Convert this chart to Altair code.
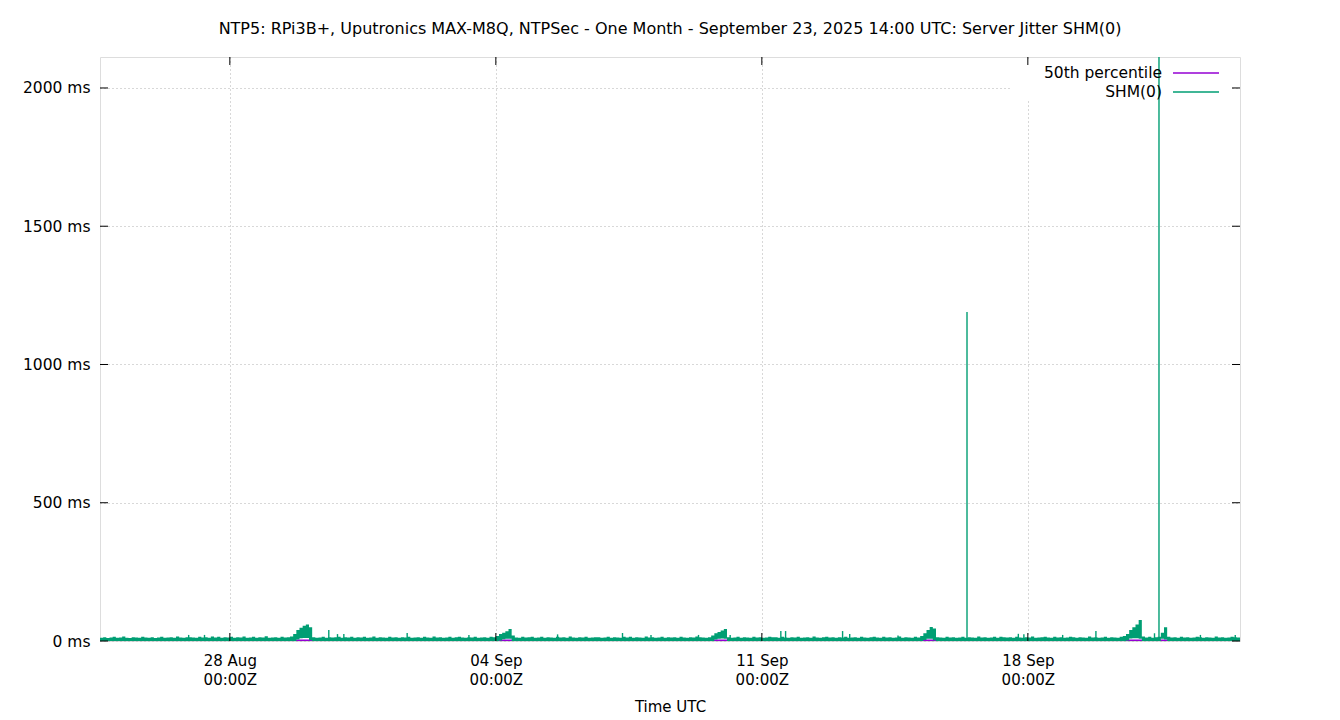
import altair as alt
import pandas as pd

TITLE = "NTP5: RPi3B+, Uputronics MAX-M8Q, NTPSec - One Month - September 23, 2025 14:00 UTC: Server Jitter SHM(0)"

# SHM(0) jitter, upper envelope per 2-hour bin (ms), starting 2025-08-24 14:00 UTC
JITTER_HI = [
    12, 14, 11, 13, 15, 12, 13, 16, 12, 11, 14, 13, 12, 15, 13, 12, 14, 11, 13, 15,
    12, 13, 14, 12, 16, 13, 12, 14, 14, 13, 12, 15, 13, 14, 12, 16, 13, 15, 12, 14,
    13, 15, 12, 14, 13, 16, 12, 13, 15, 12, 14, 13, 17, 12, 13, 14, 12, 15, 13, 14,
    16, 25, 40, 48, 55, 60, 50, 14, 12, 13, 15, 12, 14, 13, 14, 15, 12, 14, 13, 15,
    12, 14, 13, 15, 12, 13, 16, 12, 14, 13, 12, 15, 13, 14, 12, 14, 13, 15, 12, 13,
    14, 12, 15, 13, 12, 16, 13, 14, 12, 13, 15, 12, 14, 15, 13, 12, 14, 13, 15, 12,
    13, 14, 12, 15, 14, 18, 25, 30, 35, 43, 20, 13, 12, 15, 13, 14, 15, 12, 13, 15,
    12, 14, 13, 12, 15, 13, 14, 12, 16, 13, 12, 14, 13, 15, 12, 13, 14, 14, 12, 13,
    15, 12, 14, 13, 12, 15, 13, 15, 12, 14, 13, 12, 16, 13, 14, 12, 13, 15, 12, 14,
    13, 14, 12, 15, 13, 12, 14, 13, 16, 14, 13, 12, 14, 20, 28, 33, 38, 43, 14, 12,
    13, 15, 12, 14, 13, 12, 15, 13, 14, 12, 13, 15, 14, 14, 12, 15, 13, 12, 14, 13,
    15, 12, 13, 14, 12, 16, 13, 12, 14, 15, 13, 14, 12, 14, 13, 15, 12, 13, 14, 12,
    15, 13, 12, 14, 15, 13, 12, 15, 13, 14, 12, 13, 16, 12, 14, 13, 12, 15, 13, 18,
    28, 40, 51, 45, 14, 13, 12, 15, 13, 14, 12, 13, 15, 12, 14, 13, 12, 16, 13, 14,
    12, 13, 15, 12, 15, 14, 13, 14, 12, 15, 13, 12, 14, 13, 16, 12, 13, 14, 15, 13,
    12, 15, 13, 14, 12, 13, 15, 14, 12, 14, 13, 12, 16, 13, 14, 12, 13, 15, 12, 14,
    13, 12, 15, 18, 25, 40, 50, 60, 76, 16, 13, 15, 12, 14, 15, 30, 50, 15, 13, 14,
    12, 15, 13, 14, 12, 13, 15, 14, 12, 14, 13, 12, 16, 13, 14, 12, 13, 15, 14, 13,
]

# bins where the lower envelope lifts off zero (bin index, ms)
LO_BINS = [62, 63, 64, 65, 66, 126, 127, 128, 129, 194, 195, 196, 197,
           260, 261, 262, 263, 324, 325, 326, 327, 328, 335, 336]
LO_VALS = [5, 10, 11, 11, 3, 2, 6, 8, 8, 5, 8, 9, 8,
           4, 8, 8, 3, 2, 9, 10, 10, 8, 8, 5]

# isolated narrow spikes (UTC time, ms)
SPIKE_TIMES = [
    "2025-08-26T22:00:00Z", "2025-08-27T08:00:00Z", "2025-08-30T14:30:00Z",
    "2025-08-30T20:00:00Z", "2025-08-31T00:00:00Z", "2025-09-01T16:00:00Z",
    "2025-09-03T07:00:00Z", "2025-09-05T15:00:00Z", "2025-09-07T08:00:00Z",
    "2025-09-08T02:00:00Z", "2025-09-09T08:00:00Z", "2025-09-10T04:00:00Z",
    "2025-09-11T12:00:00Z", "2025-09-11T15:00:00Z", "2025-09-13T03:00:00Z",
    "2025-09-13T07:30:00Z", "2025-09-14T14:00:00Z", "2025-09-16T09:35:00Z",
    "2025-09-17T18:00:00Z", "2025-09-17T21:30:00Z", "2025-09-18T22:00:00Z",
    "2025-09-19T19:00:00Z", "2025-09-21T08:00:00Z", "2025-09-21T10:50:00Z",
    "2025-09-22T13:00:00Z", "2025-09-23T11:00:00Z",
]
SPIKE_VALS = [
    22, 22, 40,
    25, 25, 29,
    22, 24, 29,
    22, 22, 22,
    36, 36, 36,
    25, 20, 1190,
    26, 24, 22,
    36, 28, 2600,
    22, 22,
]

P50 = 3  # 50th percentile (ms)

X_TICKS = ["2025-08-28", "2025-09-04", "2025-09-11", "2025-09-18"]
Y_TICKS = [0, 500, 1000, 1500, 2000]

GREEN = "#009e73"
PURPLE = "#9400d3"
FONT = "DejaVu Sans"
W, H = 1140, 584
YMAX = 2112

t0 = pd.Timestamp("2025-08-24T14:00:00Z")
times = [t0 + pd.Timedelta(hours=2 * i) for i in range(len(JITTER_HI) + 1)]
lo = [0] * len(JITTER_HI)
for i, v in zip(LO_BINS, LO_VALS):
    lo[i] = v
band = pd.DataFrame({
    "t": [t.strftime("%Y-%m-%dT%H:%M:%SZ") for t in times],
    "hi": JITTER_HI + [JITTER_HI[-1]],
    "lo": lo + [lo[-1]],
})
spikes = pd.DataFrame({"t": SPIKE_TIMES, "v": SPIKE_VALS, "z": [0] * len(SPIKE_VALS)})
xt = pd.DataFrame({"t": [d + "T00:00:00Z" for d in X_TICKS]})
yt = pd.DataFrame({"v": Y_TICKS})
one = pd.DataFrame({"k": [0]})

dom = [alt.DateTime(year=2025, month=8, date=24, hours=14, utc=True),
       alt.DateTime(year=2025, month=9, date=23, hours=14, utc=True)]
xvals = [alt.DateTime(year=2025, month=int(d[5:7]), date=int(d[8:10]), utc=True) for d in X_TICKS]

xscale = alt.Scale(type="utc", domain=dom, nice=False)
yscale = alt.Scale(domain=[0, YMAX], nice=False, zero=True)

xaxis = alt.Axis(values=xvals, labelExpr="[utcFormat(datum.value, '%d %b'), utcFormat(datum.value, '%H:%MZ')]",
                 ticks=False, domain=False, grid=True, gridDash=[1, 3], gridColor="#b0b0b0",
                 labelFont=FONT, labelFontSize=15, labelColor="black", labelPadding=12,
                 labelLineHeight=19, labelBaseline="top", title="Time UTC", titleFont=FONT,
                 titleFontSize=15, titleFontWeight="normal", titleColor="black", titlePadding=12,
                 labelOverlap=False)
yaxis = alt.Axis(values=Y_TICKS, labelExpr="datum.value + ' ms'", ticks=False, domain=False,
                 grid=True, gridDash=[1, 3], gridColor="#b0b0b0", labelFont=FONT, labelFontSize=15.5,
                 labelColor="black", labelPadding=10, title=None)

base_area = alt.Chart(band).mark_area(interpolate="step-after", color=GREEN, opacity=1, clip=True).encode(
    x=alt.X("t:T", scale=xscale, axis=xaxis),
    y=alt.Y("hi:Q", scale=yscale, axis=yaxis),
    y2="lo:Q",
)

p50 = alt.Chart(one).mark_rule(color=PURPLE, strokeWidth=1.5).encode(
    x=alt.value(0), x2=alt.value(W), y=alt.datum(P50, type="quantitative"))

legend_bg = alt.Chart(one).mark_rect(color="white").encode(
    x=alt.value(912), x2=alt.value(1132), y=alt.value(4), y2=alt.value(44))

spike_rules = alt.Chart(spikes).mark_rule(color=GREEN, strokeWidth=1.4, clip=True).encode(
    x="t:T", y="v:Q", y2="z:Q")

xt_bot = alt.Chart(xt).mark_rule(color="black").encode(x="t:T", y=alt.value(H), y2=alt.value(H - 8))
xt_top = alt.Chart(xt).mark_rule(color="black").encode(x="t:T", y=alt.value(0), y2=alt.value(8))
yt_left = alt.Chart(yt).mark_rule(color="black").encode(y="v:Q", x=alt.value(0), x2=alt.value(8))
yt_right = alt.Chart(yt).mark_rule(color="black").encode(y="v:Q", x=alt.value(W), x2=alt.value(W - 8))

leg_text = alt.Chart(pd.DataFrame({"s": ["50th percentile", "SHM(0)"], "yy": [16, 35]})).mark_text(
    align="right", baseline="middle", font=FONT, fontSize=15.5, color="black").encode(
    x=alt.value(1062), y=alt.Y("yy:Q", scale=None), text="s:N")
leg_p = alt.Chart(one).mark_rule(color=PURPLE, strokeWidth=1.3).encode(
    x=alt.value(1073), x2=alt.value(1119), y=alt.value(16))
leg_g = alt.Chart(one).mark_rule(color=GREEN, strokeWidth=1.3).encode(
    x=alt.value(1073), x2=alt.value(1119), y=alt.value(35))

title = alt.Chart(one).mark_text(align="center", baseline="middle", font=FONT, fontSize=16,
                                 color="black").encode(
    x=alt.value(W / 2), y=alt.value(-28), text=alt.value(TITLE))

chart = alt.layer(
    p50, legend_bg, base_area, spike_rules, xt_bot, xt_top, yt_left, yt_right,
    leg_p, leg_g, leg_text, title,
).properties(
    width=W, height=H,
    padding={"left": 92, "top": 49, "right": 92, "bottom": 78},
    autosize="none",
).configure_view(stroke="black", strokeWidth=1).configure(background="white")

chart.save("out.html", embed_options={"renderer": "svg", "actions": False})
